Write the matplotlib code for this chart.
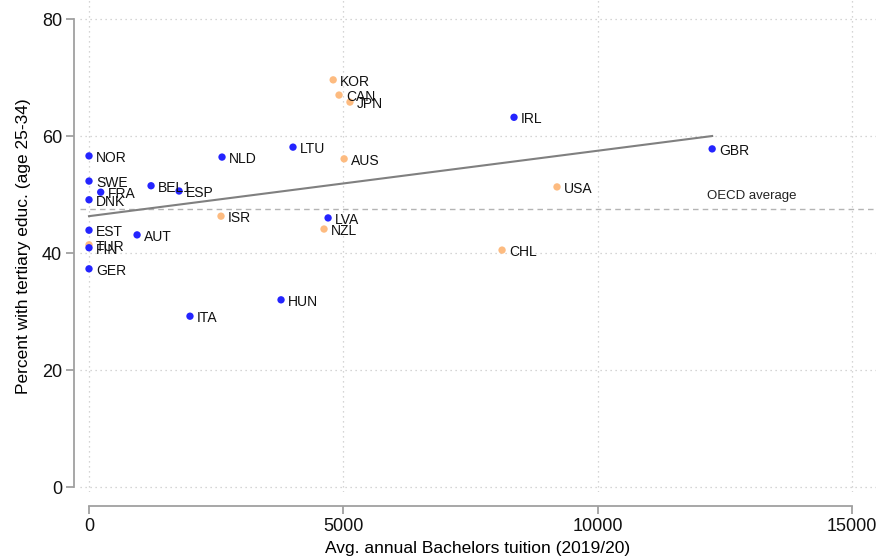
import matplotlib
matplotlib.use("Agg")
import matplotlib.pyplot as plt
import numpy as np

plt.rcParams['font.family'] = ['Liberation Sans', 'DejaVu Sans']

countries = ["NOR", "SWE", "FRA", "DNK", "BEL1", "ESP", "NLD", "LTU", "KOR", "CAN",
             "JPN", "AUS", "IRL", "GBR", "USA", "ISR", "LVA", "NZL", "EST", "AUT",
             "TUR", "FIN", "GER", "CHL", "HUN", "ITA"]
tuition = [0, 0, 230, 0, 1220, 1770, 2615, 4010, 4800, 4915,
           5130, 5015, 8355, 12250, 9200, 2595, 4700, 4620, 0, 945,
           0, 0, 0, 8120, 3775, 1985]
tertiary = [56.6, 52.3, 50.4, 49.1, 51.5, 50.6, 56.4, 58.1, 69.6, 67.0,
            65.8, 56.1, 63.2, 57.8, 51.3, 46.3, 46.0, 44.1, 43.9, 43.1,
            41.4, 40.9, 37.3, 40.5, 32.0, 29.2]
group = ["eu", "eu", "eu", "eu", "eu", "eu", "eu", "eu", "other", "other",
         "other", "other", "eu", "eu", "other", "other", "eu", "other", "eu", "eu",
         "other", "eu", "eu", "other", "eu", "eu"]
oecd_average = 47.5
fit_x = [0, 12250]
fit_y = [46.3, 60.0]

colors = {"eu": "#2424ff", "other": "#fdbb80"}

fig = plt.figure(figsize=(8.76, 5.59), dpi=100)
ax = fig.add_axes([80/876, 1 - 492/559, 796/876, 492/559])

ax.set_xlim(-177, 15471)
ax.set_ylim(-0.85, 83.25)

for v in [0, 5000, 10000, 15000]:
    ax.axvline(v, color="#c8c8c8", lw=0.9, ls=(0, (1, 3)), zorder=0)
for v in [0, 20, 40, 60, 80]:
    ax.axhline(v, color="#c8c8c8", lw=0.9, ls=(0, (1, 3)), zorder=0)

ax.axhline(oecd_average, color="#b4b4b4", lw=1.0, ls=(0, (4, 3)), zorder=1)
ax.text(12150, oecd_average + 2.2, "OECD average", fontsize=9.5, color="#222222",
        ha="left", va="center")

ax.plot(fit_x, fit_y, color="#808080", lw=1.5, zorder=2)

for c, x, y, g in zip(countries, tuition, tertiary, group):
    ax.scatter([x], [y], s=28, color=colors[g], edgecolors="none", zorder=3)
    ax.annotate(c, (x, y), xytext=(5, -1.5), textcoords="offset points",
                fontsize=10, ha="left", va="center", color="#111111", zorder=4)

for s in ["top", "right"]:
    ax.spines[s].set_visible(False)
ax.spines["left"].set_position(("outward", 4))
ax.spines["bottom"].set_position(("outward", 10))
ax.spines["left"].set_bounds(0, 80)
ax.spines["bottom"].set_bounds(0, 15000)
for s in ["left", "bottom"]:
    ax.spines[s].set_color("#a0a0a0")
    ax.spines[s].set_linewidth(1.3)

ax.set_xticks([0, 5000, 10000, 15000])
ax.set_yticks([0, 20, 40, 60, 80])
ax.tick_params(axis="both", colors="#a0a0a0", width=1.3, length=6, labelsize=13,
               labelcolor="#111111", pad=3)
ax.set_xlabel("Avg. annual Bachelors tuition (2019/20)", fontsize=12.5, labelpad=4)
ax.set_ylabel("Percent with tertiary educ. (age 25-34)", fontsize=12.5, labelpad=8)

fig.savefig("out.png", dpi=100)
